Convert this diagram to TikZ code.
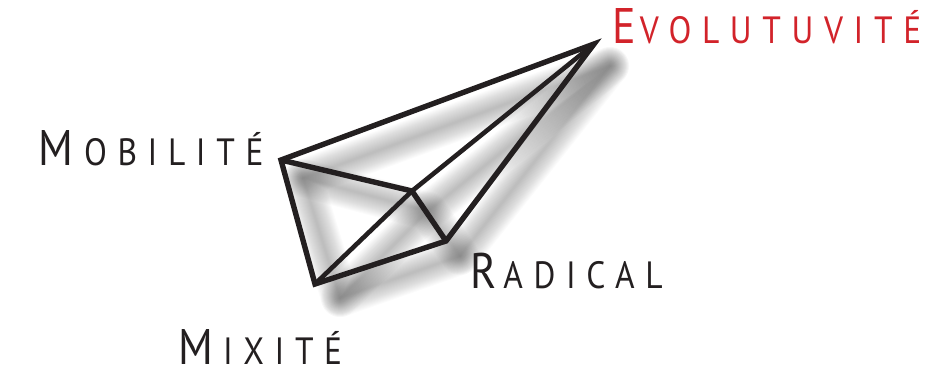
\documentclass[tikz,border=0pt]{standalone}
\usepackage{fontspec}
\newfontfamily\capfont[LetterSpace=28,FakeStretch=0.88]{PT Sans}
\usetikzlibrary{positioning}
\definecolor{traitnoir}{HTML}{231F20}
\definecolor{evorouge}{HTML}{D2232A}
\newcommand{\petitcap}[3][4pt]{{\fontsize{50}{50}\selectfont #2}\hspace{#1}{\fontsize{38}{38}\selectfont #3}}
\tikzset{
  etiquette/.style={font=\capfont, text=traitnoir, inner sep=0pt, anchor=base west},
  trait/.style={draw=traitnoir, line width=5.4pt, line join=miter, miter limit=20},
  ombre/.style={draw=black, opacity=0.016, line cap=round, line join=round}
}
\begin{document}
\begin{tikzpicture}[x=1pt, y=-1pt]
  \useasboundingbox (0,0) rectangle (950,372);
  % Sommets
  \coordinate (evol) at (594,44);
  \coordinate (mobi) at (281,160);
  \coordinate (cent) at (412,191);
  \coordinate (radi) at (446,241);
  \coordinate (mixi) at (315,284);
  % Ombres
  \coordinate (sevol) at (610,66);
  \coordinate (smobi) at (303,178);
  \coordinate (scent) at (428,211);
  \coordinate (sradi) at (460,256);
  \coordinate (smixi) at (340,298);
  \foreach \w in {2,4,...,38} {
    \draw[ombre, line width=\w pt] (sevol) -- (smobi) -- (smixi) -- (sradi) -- cycle;
    \draw[ombre, line width=\w pt] (smobi) -- (scent) -- (sradi);
    \draw[ombre, line width=\w pt] (smixi) -- (scent) -- (sevol);
  }
  % Traits
  \draw[trait] (evol) -- (mobi) -- (mixi) -- (radi) -- cycle;
  \draw[trait] (mobi) -- (cent) -- (radi);
  \draw[trait, line width=4.6pt] (mixi) -- (cent) -- (evol);
  % Etiquettes
  \node[etiquette, text=evorouge] (levol) at (612,43) {\petitcap{E}{VOLUTUVITÉ}};
  \node[etiquette] (lmobi) at (38,165) {\petitcap[11pt]{M}{OBILITÉ}};
  \node[etiquette] (lradi) at (470,288) {\petitcap[7pt]{R}{ADICAL}};
  \node[etiquette] (lmixi) at (178,364) {\petitcap[10pt]{M}{IXITÉ}};
\end{tikzpicture}
\end{document}
